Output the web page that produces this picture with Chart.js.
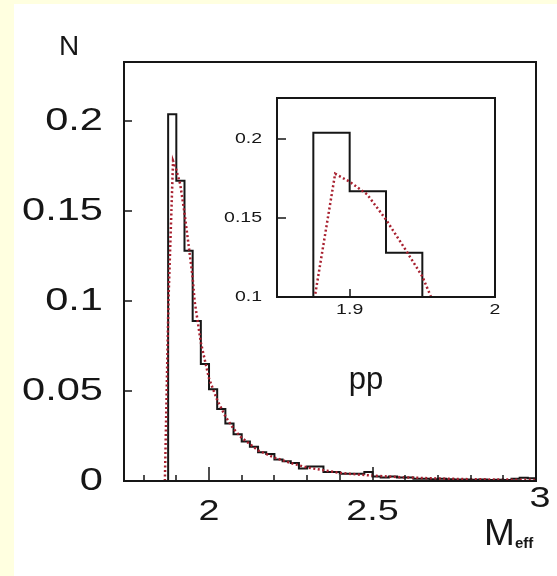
<!DOCTYPE html>
<html>
<head>
<meta charset="utf-8">
<script src="https://cdn.jsdelivr.net/npm/chart.js@4.4.0/dist/chart.umd.min.js"></script>
<style>
  html, body { margin: 0; padding: 0; background: #ffffe0; }
  #page { position: absolute; left: 14px; top: 4px; right: 0; bottom: 0; background: #fff; }
  canvas { position: absolute; }
  #mainChart { left: 0; top: 0; }
  #insetChart { left: 200px; top: 88px; }
</style>
</head>
<body>
<div id="page"></div>
<canvas id="mainChart" width="557" height="576"></canvas>
<canvas id="insetChart" width="305" height="240"></canvas>
<script>
// M_eff histogram, bins of 0.025 starting at 1.875
const BIN_START = 1.875;
const BIN_WIDTH = 0.025;
const histValues = [
  0.204, 0.167, 0.128, 0.089, 0.065, 0.051, 0.040, 0.032, 0.026, 0.022,
  0.019, 0.016, 0.015, 0.012, 0.011, 0.010, 0.007, 0.008, 0.008, 0.005,
  0.005, 0.004, 0.004, 0.004, 0.005, 0.0025, 0.002, 0.0025, 0.002, 0.002,
  0.0012, 0.0012, 0.001, 0.0012, 0.001, 0.0008, 0.0008, 0.0007, 0.0008, 0.0006,
  0.0007, 0.0006, 0.0012, 0.0018, 0.0015
];

// calculated distribution (red dotted curve)
const curveX = [1.865, 1.876, 1.890, 1.900, 1.912, 1.925, 1.937, 1.950, 1.956, 1.975,
  2.000, 2.025, 2.050, 2.075, 2.100, 2.150, 2.200, 2.250, 2.300, 2.350,
  2.400, 2.450, 2.500, 2.600, 2.700, 2.800, 2.900, 3.000];
const curveY = [0, 0.100, 0.178, 0.173, 0.165, 0.149, 0.132, 0.113, 0.100, 0.077,
  0.057, 0.045, 0.036, 0.029, 0.024, 0.017, 0.013, 0.010, 0.0075, 0.006,
  0.0045, 0.0037, 0.003, 0.002, 0.0014, 0.001, 0.0008, 0.0006];

// axis ticks
const yTicks = [0, 0.05, 0.1, 0.15, 0.2];
const yTickLabels = ['0', '0.05', '0.1', '0.15', '0.2'];
const xMajorTicks = [2, 2.5, 3];
const xTickLabels = ['2', '2.5', '3'];
const xMinorTicks = [1.8, 1.9, 2.1, 2.2, 2.3, 2.4, 2.6, 2.7, 2.8, 2.9];

const insetYTicks = [0.1, 0.15, 0.2];
const insetYLabels = ['0.1', '0.15', '0.2'];
const insetXTicks = [1.9, 2];
const insetXLabels = ['1.9', '2'];

const X_MIN = 1.74, X_MAX = 3.0;
const INK = '#161616';
const RED = '#a8202f';
const FONT = "'Liberation Sans', Arial, sans-serif";

const histPoints = [{ x: X_MIN, y: 0 }];
histValues.forEach((v, i) => histPoints.push({ x: BIN_START + i * BIN_WIDTH, y: v }));
histPoints.push({ x: BIN_START + histValues.length * BIN_WIDTH, y: histValues[histValues.length - 1] });

const curvePoints = curveX.map((x, i) => ({ x: x, y: curveY[i] }));

// digits in the original plotting package are wide, so labels get stretched in x
function stretchedText(ctx, text, px, py, align, sx) {
  ctx.save();
  ctx.translate(px, py);
  ctx.scale(sx, 1);
  ctx.textAlign = align;
  ctx.textBaseline = 'middle';
  ctx.fillText(text, 0, 0);
  ctx.restore();
}

// frame, inward ticks and tick labels
const paperAxes = {
  id: 'paperAxes',
  beforeDatasetsDraw(chart) {
    const { ctx, chartArea: a } = chart;
    ctx.save();
    ctx.fillStyle = '#fff';
    ctx.fillRect(a.left, a.top, a.width, a.height);
    ctx.restore();
  },
  afterDatasetsDraw(chart, args, o) {
    const { ctx, chartArea: a, scales: { x, y } } = chart;
    ctx.save();
    ctx.strokeStyle = INK;
    ctx.lineWidth = o.lineWidth;
    ctx.strokeRect(a.left, a.top, a.width, a.height);

    ctx.lineWidth = 1.5;
    ctx.beginPath();
    o.yTicks.forEach(v => {
      const py = Math.round(y.getPixelForValue(v));
      ctx.moveTo(a.left, py);
      ctx.lineTo(a.left + o.yTickLen, py);
    });
    o.xMajor.forEach(v => {
      const px = Math.round(x.getPixelForValue(v));
      ctx.moveTo(px, a.bottom);
      ctx.lineTo(px, a.bottom - o.xMajorLen);
    });
    o.xMinor.forEach(v => {
      const px = Math.round(x.getPixelForValue(v));
      ctx.moveTo(px, a.bottom);
      ctx.lineTo(px, a.bottom - o.xMinorLen);
    });
    ctx.stroke();

    ctx.fillStyle = INK;
    ctx.font = o.yFont;
    o.yTicks.forEach((v, i) => {
      stretchedText(ctx, o.yLabels[i], a.left - o.yPad, y.getPixelForValue(v), 'right', o.stretch);
    });
    ctx.font = o.xFont;
    o.xLabelTicks.forEach((v, i) => {
      const off = o.xLabelShift[i] || [0, 0];
      stretchedText(ctx, o.xLabels[i], x.getPixelForValue(v) + off[0], a.bottom + o.xPad + off[1], 'center', o.stretch);
    });
    ctx.restore();
  }
};

// axis titles and the "pp" tag
const mainTexts = {
  id: 'mainTexts',
  afterDraw(chart) {
    const { ctx, chartArea: a } = chart;
    ctx.save();
    ctx.fillStyle = INK;
    ctx.textBaseline = 'middle';
    ctx.textAlign = 'center';
    ctx.font = '28px ' + FONT;
    ctx.fillText('N', a.left - 55, a.top - 15);

    ctx.textBaseline = 'alphabetic';
    ctx.font = '31px ' + FONT;
    ctx.fillText('pp', a.left + 242, a.top + 327);

    ctx.textAlign = 'left';
    ctx.font = '37px ' + FONT;
    ctx.fillText('M', a.left + 360, a.bottom + 64);
    ctx.font = 'bold 15px ' + FONT;
    ctx.fillText('eff', a.left + 391, a.bottom + 67);
    ctx.restore();
  }
};

function baseOptions(xmin, xmax, ymin, ymax, padding, yWidth, xHeight, axes) {
  return {
    responsive: false,
    animation: false,
    layout: { padding: padding },
    plugins: { legend: { display: false }, tooltip: { enabled: false }, paperAxes: axes },
    scales: {
      x: {
        type: 'linear', min: xmin, max: xmax,
        grid: { display: false }, border: { display: false }, ticks: { display: false },
        afterFit(s) { s.height = xHeight; }
      },
      y: {
        min: ymin, max: ymax,
        grid: { display: false }, border: { display: false }, ticks: { display: false },
        afterFit(s) { s.width = yWidth; }
      }
    }
  };
}

function datasets() {
  return [
    {
      data: curvePoints, borderColor: RED, borderWidth: 2.5, borderDash: [2, 2.5],
      pointRadius: 0, tension: 0, fill: false
    },
    {
      data: histPoints, borderColor: INK, borderWidth: 2, stepped: 'before',
      pointRadius: 0, fill: false
    }
  ];
}

new Chart(document.getElementById('mainChart'), {
  type: 'line',
  data: { datasets: datasets() },
  options: baseOptions(X_MIN, X_MAX, 0, 0.233, { top: 62, right: 21, left: 0, bottom: 0 }, 124, 95, {
    lineWidth: 2,
    yTicks: yTicks, yLabels: yTickLabels, yTickLen: 8, yPad: 21, yFont: '32px ' + FONT,
    xMajor: xMajorTicks, xMinor: xMinorTicks, xMajorLen: 14, xMinorLen: 6,
    xLabelTicks: xMajorTicks, xLabels: xTickLabels, xPad: 31, xFont: '29px ' + FONT,
    xLabelShift: [[0, 0], [0, 0], [4, -13]],
    stretch: 1.3
  }),
  plugins: [paperAxes, mainTexts]
});

new Chart(document.getElementById('insetChart'), {
  type: 'line',
  data: { datasets: datasets() },
  options: baseOptions(1.85, 2.0, 0.1, 0.226, { top: 10, right: 10, left: 0, bottom: 0 }, 77, 31, {
    lineWidth: 2,
    yTicks: insetYTicks, yLabels: insetYLabels, yTickLen: 9, yPad: 15, yFont: '15px ' + FONT,
    xMajor: insetXTicks, xMinor: [], xMajorLen: 8, xMinorLen: 0,
    xLabelTicks: insetXTicks, xLabels: insetXLabels, xPad: 13, xFont: '15px ' + FONT,
    xLabelShift: [],
    stretch: 1.3
  }),
  plugins: [paperAxes]
});
</script>
</body>
</html>
